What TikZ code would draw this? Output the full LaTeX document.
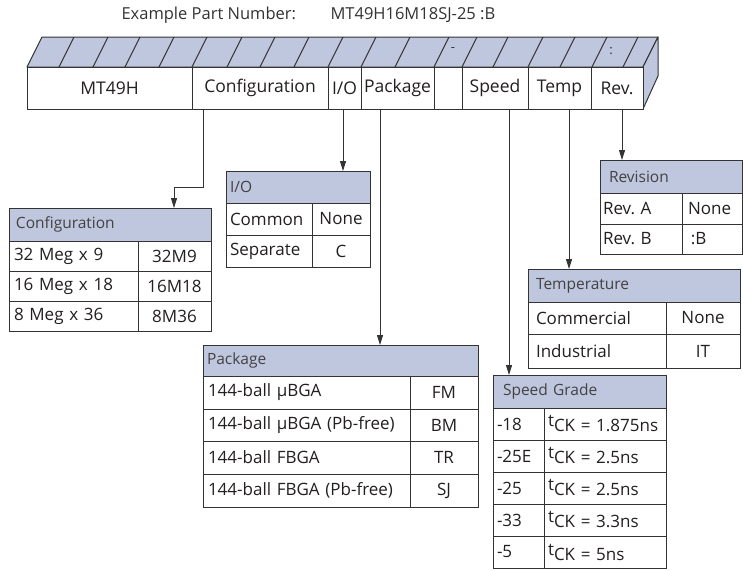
\documentclass[tikz,border=0pt]{standalone}
\usepackage{fontspec}
\setmainfont{Open Sans}
\usepackage{tikz}
\usetikzlibrary{arrows.meta,positioning,calc}
\definecolor{pline}{HTML}{333333}
\definecolor{pband}{HTML}{BFC7DF}
\definecolor{ptext}{HTML}{231F20}
\frenchspacing
\newcommand\cellfont{\frenchspacing\fontsize{17}{19}\selectfont}
\newcommand\headfont{\frenchspacing\fontsize{15.5}{18}\selectfont}
\newcommand\labfont{\frenchspacing\fontsize{17.5}{20}\selectfont}
\newcommand\titlefont{\frenchspacing\fontsize{16.5}{19}\selectfont}
\tikzset{
  band/.style={draw=pline,fill=pband,line width=1pt,line join=round},
  front/.style={draw=pline,fill=white,line width=1pt,anchor=north west,minimum height=42pt,inner sep=0pt,outer sep=0pt,font=\labfont,text=ptext},
  cell/.style={draw=pline,fill=white,line width=1pt,anchor=north west,inner ysep=0pt,outer sep=0pt,font=\cellfont,text=ptext},
  hd/.style={cell,fill=pband,font=\headfont,text=ptext!85,align=left,inner xsep=6pt},
  lc/.style={cell,align=left,inner xsep=5pt},
  cc/.style={cell,inner xsep=0pt},
  arr/.style={-{Triangle[length=10pt,width=6pt]},line width=1pt,draw=pline},
  ttl/.style={anchor=west,font=\titlefont,text=pline},
}
\begin{document}
\begin{tikzpicture}[x=1pt,y=-1pt]
\useasboundingbox (0,0) rectangle (743,570);
% part number
\node[ttl] (ttl) at (118,15) {Example Part Number:};
\node[ttl] (pnum) at (327,15) {MT49H16M18SJ-25 :B};
% header strip
\draw[band] (27,67) -- (42,37) -- (658,37) -- (643,67) -- cycle;
\draw[band] (643,67) -- (658,37) -- (658,76) -- (643,109) -- cycle;
\foreach \b in {59,93,125,159,192,227,260,294,328,361,395,434,462,493,528,560,592,623}
  \draw[pline,line width=1pt] (\b,67) -- ++(15,-30);
\node[font=\fontsize{13}{14}\selectfont,text=pline] (dash) at (453,50) {-};
\node[font=\fontsize{13}{14}\selectfont,text=pline] (colon) at (611,51) {:};
\node[front,minimum width=165pt] (hmt) at (27,67) {MT49H};
\node[front,minimum width=136pt] (hcfg) at (192,67) {Configuration};
\node[front,minimum width=33pt] (hio) at (328,67) {I/O};
\node[front,minimum width=73pt] (hpkg) at (361,67) {Package};
\node[front,minimum width=28pt] (hgap) at (434,67) {};
\node[front,minimum width=66pt] (hspd) at (462,67) {Speed};
\node[front,minimum width=63pt] (htmp) at (528,67) {Temp};
\node[front,minimum width=52pt] (hrev) at (591,67) {Rev.};
% configuration
\node[hd,text width=188pt,minimum height=33pt,inner xsep=7pt] (tcfg) at (9,208) {Configuration};
\node[lc,text width=119pt,minimum height=30pt] (cfg1) at (9,241) {32 Meg x 9};
\node[cc,minimum width=73pt,minimum height=30pt] (cfg1c) at (138,241) {32M9};
\node[lc,text width=119pt,minimum height=30pt] (cfg2) at (9,271) {16 Meg x 18};
\node[cc,minimum width=73pt,minimum height=30pt] (cfg2c) at (138,271) {16M18};
\node[lc,text width=119pt,minimum height=30pt] (cfg3) at (9,301) {8 Meg x 36};
\node[cc,minimum width=73pt,minimum height=30pt] (cfg3c) at (138,301) {8M36};
% i/o
\node[hd,text width=136pt,minimum height=32pt,inner xsep=4pt] (tio) at (226,171) {I/O};
\node[lc,text width=78pt,minimum height=32pt,inner xsep=4pt] (io1) at (226,203) {Common};
\node[cc,minimum width=58pt,minimum height=32pt] (io1c) at (312,203) {None};
\node[lc,text width=78pt,minimum height=32pt,inner xsep=4pt] (io2) at (226,235) {Separate};
\node[cc,minimum width=58pt,minimum height=32pt] (io2c) at (312,235) {C};
% package
\node[hd,text width=267pt,minimum height=31pt,inner xsep=4pt] (tpkg) at (203,345) {Package};
\node[lc,text width=197pt,minimum height=33pt] (pkg1) at (203,376) {144-ball µBGA};
\node[cc,minimum width=68pt,minimum height=33pt] (pkg1c) at (410,376) {FM};
\node[lc,text width=197pt,minimum height=32pt] (pkg2) at (203,409) {144-ball µBGA (Pb-free)};
\node[cc,minimum width=68pt,minimum height=32pt] (pkg2c) at (410,409) {BM};
\node[lc,text width=197pt,minimum height=33pt] (pkg3) at (203,441) {144-ball FBGA};
\node[cc,minimum width=68pt,minimum height=33pt] (pkg3c) at (410,441) {TR};
\node[lc,text width=197pt,minimum height=33pt] (pkg4) at (203,474) {144-ball FBGA (Pb-free)};
\node[cc,minimum width=68pt,minimum height=33pt] (pkg4c) at (410,474) {SJ};
% revision
\node[hd,text width=124pt,minimum height=33pt,inner xsep=9pt] (trev) at (600,160) {Revision};
\node[lc,text width=76pt,minimum height=31pt,inner xsep=3pt] (rev1) at (600,193) {Rev. A};
\node[lc,text width=48pt,minimum height=31pt,inner xsep=6pt] (rev1c) at (682,193) {None};
\node[lc,text width=76pt,minimum height=30pt,inner xsep=3pt] (rev2) at (600,224) {Rev. B};
\node[lc,text width=48pt,minimum height=30pt,inner xsep=6pt] (rev2c) at (682,224) {\,:B};
% temperature
\node[hd,text width=196pt,minimum height=33pt,inner xsep=8pt] (ttmp) at (528,269) {Temperature};
\node[lc,text width=122pt,minimum height=32pt,inner xsep=8pt] (tmp1) at (528,302) {Commercial};
\node[cc,minimum width=74pt,minimum height=32pt] (tmp1c) at (666,302) {None};
\node[lc,text width=122pt,minimum height=34pt,inner xsep=8pt] (tmp2) at (528,334) {Industrial};
\node[cc,minimum width=74pt,minimum height=34pt] (tmp2c) at (666,334) {IT};
% speed grade
\node[hd,text width=153pt,minimum height=33pt,inner xsep=10pt] (tspd) at (493,375) {Speed Grade};
\foreach \g/\t [count=\i from 0] in {-18/1.875,-25E/2.5,-25/2.5,-33/3.3,-5/5}{
  \node[lc,text width=43pt,minimum height=32pt,inner xsep=4pt] (spd\i) at (493,408+32*\i) {\g};
  \node[lc,text width=114pt,minimum height=32pt,inner xsep=4pt] (spd\i c) at (544,408+32*\i) {\mbox{\raisebox{5pt}{t}CK = \t ns}};
}
% connectors
\draw[arr] ([xshift=11pt]hcfg.south west) -- ++(0,78) -| ([xshift=165pt]tcfg.north west);
\draw[arr] ([xshift=15pt]hio.south west) coordinate (pio) -- (pio |- tio.north);
\draw[arr] ([xshift=19pt]hpkg.south west) coordinate (ppkg) -- (ppkg |- tpkg.north);
\draw[arr] ([xshift=47pt]hspd.south west) coordinate (pspd) -- (pspd |- tspd.north);
\draw[arr] ([xshift=41pt]htmp.south west) coordinate (ptmp) -- (ptmp |- ttmp.north);
\draw[arr] ([xshift=31pt]hrev.south west) coordinate (prev) -- (prev |- trev.north);
\end{tikzpicture}
\end{document}
